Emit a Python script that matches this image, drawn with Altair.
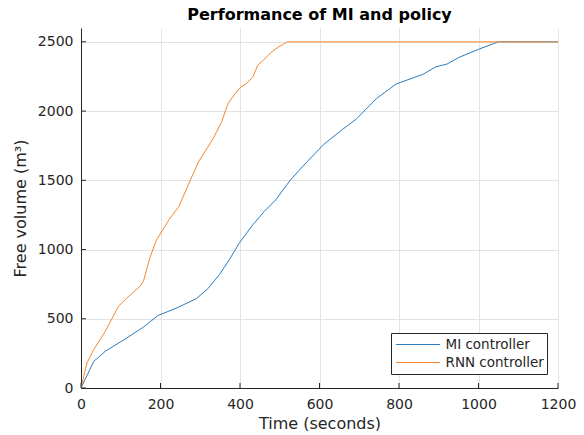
import altair as alt
import pandas as pd

# MI controller series (time in s, free volume in m^3)
mi_t = [0, 32, 61, 115, 157, 194, 240, 290, 319, 348, 373, 398, 432, 461, 490,
        527, 569, 611, 659, 692, 744, 793, 860, 893, 921, 951, 1000, 1050, 1200]
mi_v = [0, 192, 265, 361, 440, 524, 577, 645, 717, 818, 926, 1046, 1178, 1275, 1359,
        1503, 1635, 1760, 1870, 1941, 2092, 2196, 2265, 2320, 2340, 2388, 2446, 2500, 2500]

# RNN controller series
rnn_t = [0, 15, 32, 61, 94, 115, 148, 157, 173, 190, 221, 246, 279, 296, 312,
         333, 354, 370, 387, 403, 415, 432, 445, 457, 478, 498, 519, 1200]
rnn_v = [0, 180, 277, 409, 589, 649, 733, 770, 938, 1070, 1214, 1310, 1527, 1635, 1707,
         1804, 1924, 2056, 2123, 2176, 2196, 2244, 2333, 2362, 2424, 2465, 2500, 2500]

series_names = ["MI controller", "RNN controller"]
series_colors = ["#2a7cbf", "#f5862c"]

x_ticks = [0, 200, 400, 600, 800, 1000, 1200]
y_ticks = [0, 500, 1000, 1500, 2000, 2500]
x_domain = [0, 1200]
y_domain = [0, 2600]

df = pd.concat([
    pd.DataFrame({"t": mi_t, "v": mi_v, "s": series_names[0], "o": range(len(mi_t))}),
    pd.DataFrame({"t": rnn_t, "v": rnn_v, "s": series_names[1], "o": range(len(rnn_t))}),
])

W, H = 477, 360
TICK = 5
FONT = "DejaVu Sans"
TXT = "#262626"

xs = alt.Scale(domain=x_domain, nice=False, zero=False)
ys = alt.Scale(domain=y_domain, nice=False, zero=False)

lines = alt.Chart(df).mark_line(strokeWidth=1, clip=True).encode(
    x=alt.X("t:Q", scale=xs, axis=alt.Axis(
        values=x_ticks, domain=True, domainColor=TXT, ticks=False, tickSize=0,
        labelPadding=9, labelFontSize=14, labelColor=TXT, labelFont=FONT,
        grid=True, gridColor="#e3e3e3", title="Time (seconds)", titleFontSize=16,
        titleFont=FONT, titleColor=TXT, titleFontWeight="normal",
        titleBaseline="alphabetic", titleY=40,
        format="d", labelFlush=False)),
    y=alt.Y("v:Q", scale=ys, axis=alt.Axis(
        values=y_ticks, domain=True, domainColor=TXT, ticks=False, tickSize=0,
        labelPadding=8, labelFontSize=14, labelColor=TXT, labelFont=FONT,
        grid=True, gridColor="#e3e3e3", title="Free volume (m³)", titleFontSize=16,
        titleFont=FONT, titleColor=TXT, titleFontWeight="normal", titlePadding=8.5,
        format="d", labelFlush=False)),
    color=alt.Color("s:N", scale=alt.Scale(domain=series_names, range=series_colors),
                    legend=alt.Legend(
                        title=None, orient="none", legendX=310, legendY=305,
                        symbolType="stroke", symbolSize=1936, symbolStrokeWidth=1,
                        symbolOffset=2, clipHeight=18, rowPadding=0,
                        labelFontSize=13.5, labelFont=FONT, labelOffset=5,
                        labelColor=TXT, fillColor="white", strokeColor=TXT, padding=2.5)),
    order="o:Q",
)

# inward tick marks (MATLAB style), placed by the axis scales
xt = alt.Chart(pd.DataFrame({"t": x_ticks})).mark_rule(color=TXT, strokeWidth=1).encode(
    x=alt.X("t:Q", scale=xs), y=alt.value(H - TICK), y2=alt.value(H))
yt = alt.Chart(pd.DataFrame({"v": y_ticks})).mark_rule(color=TXT, strokeWidth=1).encode(
    y=alt.Y("v:Q", scale=ys), x=alt.value(0), x2=alt.value(TICK))

chart = alt.layer(lines, xt, yt).properties(
    width=W, height=H,
    title=alt.TitleParams("Performance of MI and policy", fontSize=16, fontWeight="bold",
                          font=FONT, color="black", anchor="middle", offset=5),
    autosize=alt.AutoSizeParams(type="none"),
    padding={"left": 73, "top": 20, "right": 18, "bottom": 43},
).configure_view(stroke=None)

chart.save("out.html", embed_options={"renderer": "svg", "actions": False})
